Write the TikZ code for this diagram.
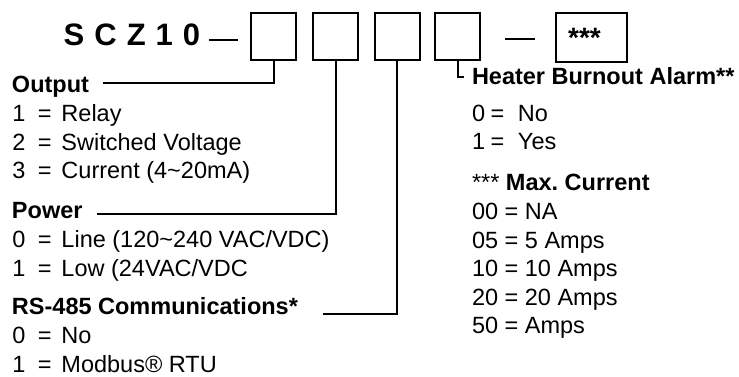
\documentclass[tikz,border=0pt]{standalone}
\usepackage{fontspec}
\setmainfont{Liberation Sans}
\frenchspacing
\newcommand\Litem[2]{\makebox[25.5pt][l]{#1}\makebox[23.5pt][l]{=}#2}
\newcommand\Ritem[2]{\makebox[18.5pt][l]{#1}\makebox[27.5pt][l]{=}#2}
\begin{document}
\begin{tikzpicture}[x=1pt,y=-1pt,
  txt/.style={inner sep=0pt,outer sep=0pt,anchor=base west,font=\fontsize{23.5}{28}\selectfont},
  head/.style={txt,font=\fontsize{23.5}{28}\selectfont\bfseries},
  codebox/.style={draw,line width=2pt,inner sep=0pt,minimum width=45pt,minimum height=47pt},
  conn/.style={draw,line width=2pt}]
\useasboundingbox (0,0) rectangle (739,376);
% title
\node[inner sep=0pt,anchor=base west,font=\fontsize{31}{34}\selectfont\bfseries] (scz) at (63.5,45)
  {S\hspace{10pt}C\hspace{10pt}Z\hspace{10pt}1\hspace{10pt}0};
\coordinate (d1a) at (209,40);
\coordinate (d1b) at (238,40);
\draw[line width=2.2pt] (d1a) -- (d1b);
% boxes
\node[codebox] (b1) at (273.5,36) {};
\node[codebox] (b2) at (335.5,36) {};
\node[codebox] (b3) at (397,36) {};
\node[codebox] (b4) at (457.5,36) {};
\coordinate (d2a) at (505,39);
\coordinate (d2b) at (535,39);
\draw[line width=2.2pt] (d2a) -- (d2b);
\node[codebox,minimum width=71pt,minimum height=49.5pt] (b5) at (591,37.25) {};
\node[inner sep=0pt,anchor=base west,font=\fontsize{28}{30}\selectfont\bfseries] (stars) at (568,47) {***};
% left column
\node[head] (outp) at (12,92) {Output};
\node[txt] (o1) at (12.5,121) {\Litem{1}{Relay}};
\node[txt] (o2) at (12.5,150) {\Litem{2}{Switched Voltage}};
\node[txt] (o3) at (12.5,178) {\Litem{3}{Current (4\textasciitilde 20mA)}};
\node[head] (powr) at (12,218) {Power};
\node[txt] (p0) at (12.5,247) {\Litem{0}{Line (120\textasciitilde 240 VAC/VDC)}};
\node[txt] (p1) at (12.5,276) {\Litem{1}{Low (24VAC/VDC}};
\node[head] (rs) at (12,314) {RS-485 Communications*};
\node[txt] (r0) at (12.5,343) {\Litem{0}{No}};
\node[txt] (r1) at (12.5,372) {\Litem{1}{Modbus® RTU}};
% right column
\node[head] (heat) at (472,84) {Heater Burnout Alarm**};
\node[txt] (h0) at (472,121) {\Ritem{0}{No}};
\node[txt] (h1) at (472,149) {\Ritem{1}{Yes}};
\node[txt] (maxc) at (472,190) {*** \textbf{Max. Current}};
\node[txt] (m00) at (472,219) {00 = NA};
\node[txt] (m05) at (472,248) {05 = 5 Amps};
\node[txt] (m10) at (472,276) {10 = 10 Amps};
\node[txt] (m20) at (472,305) {20 = 20 Amps};
\node[txt] (m50) at (472,333) {50 = Amps};
% connectors
\coordinate (oend) at (103,82.5);
\coordinate (pend) at (97,213.5);
\coordinate (rend) at (323,313.5);
\coordinate (hend) at (463.5,76.5);
\draw[conn] (b1.south) |- (oend);
\draw[conn] (b2.south) |- (pend);
\draw[conn] (b3.south) |- (rend);
\draw[conn] (b4.south) |- (hend);
\end{tikzpicture}
\end{document}
